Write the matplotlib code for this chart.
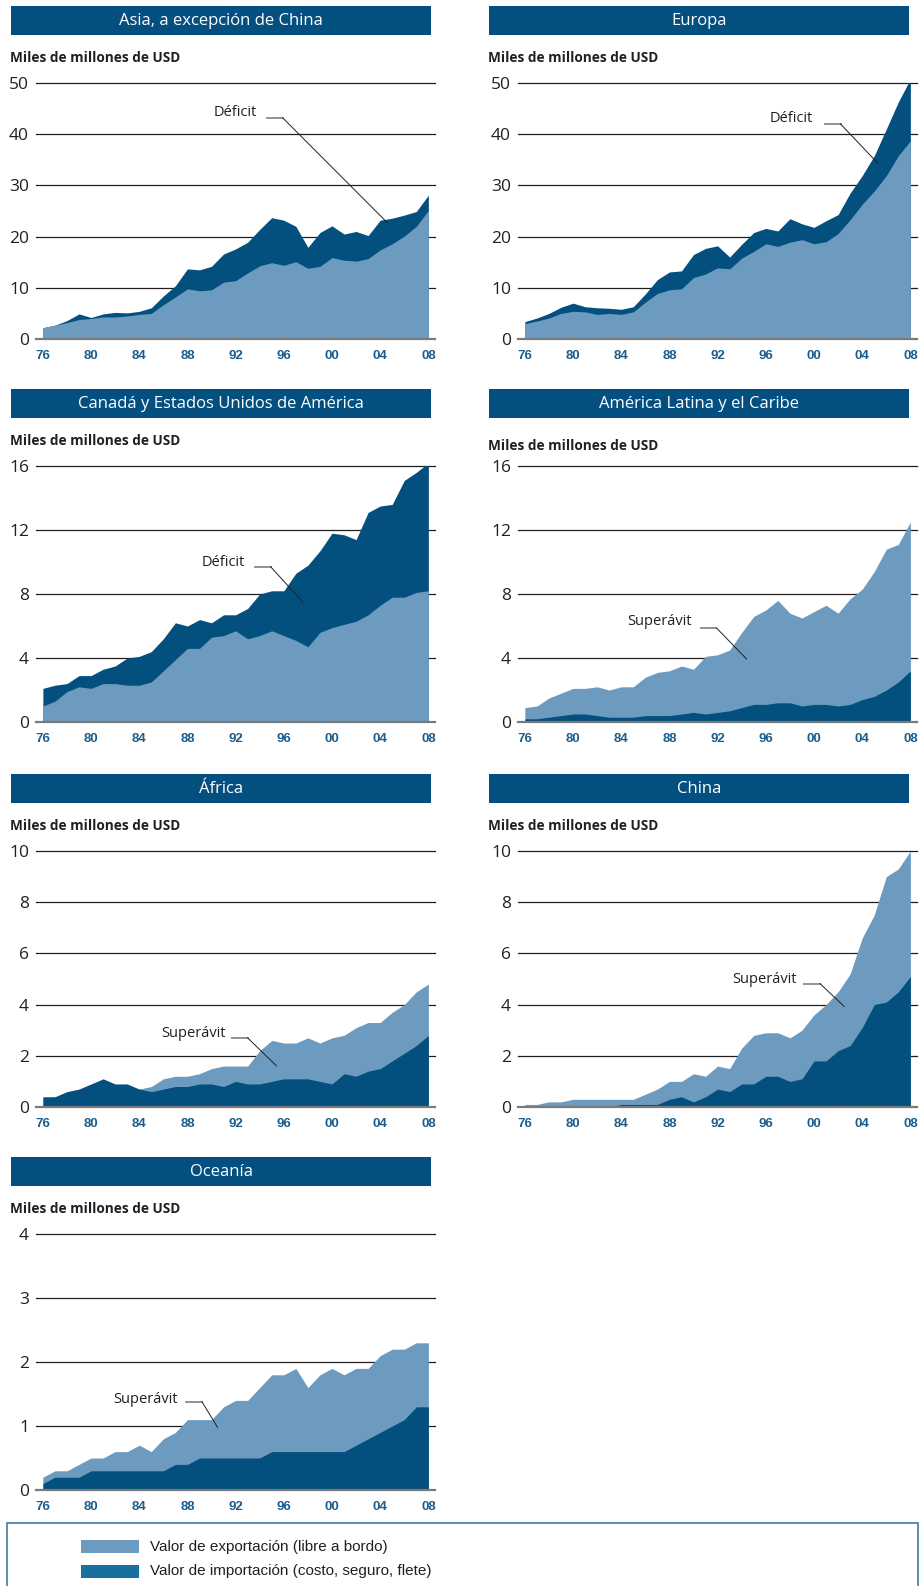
import numpy as np
import matplotlib
matplotlib.use("Agg")
import matplotlib.pyplot as plt
from matplotlib.patches import Rectangle

# Exportaciones e importaciones por región, 1976-2008 (miles de millones de USD)

years = np.arange(1976, 2009)
tick_years = [1976, 1980, 1984, 1988, 1992, 1996, 2000, 2004, 2008]
tick_labels = ["76", "80", "84", "88", "92", "96", "00", "04", "08"]

regions = ["Asia, a excepción de China", "Europa",
           "Canadá y Estados Unidos de América", "América Latina y el Caribe",
           "África", "China", "Oceanía"]

asia_exp = [2.2, 2.7, 3.2, 3.8, 4.0, 4.3, 4.3, 4.5, 4.8, 5.0, 6.7, 8.2, 9.8, 9.4, 9.6,
            11.1, 11.4, 12.9, 14.3, 14.9, 14.4, 15.1, 13.8, 14.2, 15.9, 15.4, 15.2,
            15.7, 17.4, 18.6, 20.1, 22.0, 25.1]
asia_imp = [2.2, 2.7, 3.6, 4.9, 4.2, 4.9, 5.2, 5.1, 5.4, 6.1, 8.4, 10.4, 13.7, 13.5, 14.2,
            16.6, 17.6, 18.9, 21.4, 23.7, 23.2, 22.0, 17.9, 20.8, 22.1, 20.5, 21.0,
            20.2, 23.2, 23.6, 24.2, 24.9, 28.1]

europa_exp = [3.0, 3.5, 4.1, 5.0, 5.4, 5.3, 4.8, 5.0, 4.8, 5.3, 7.2, 8.9, 9.6, 9.8, 12.0,
              12.7, 13.9, 13.7, 15.8, 17.1, 18.6, 18.1, 18.9, 19.4, 18.6, 19.0, 20.6,
              23.3, 26.3, 28.9, 31.9, 35.8, 38.7]
europa_imp = [3.4, 4.1, 5.0, 6.2, 7.0, 6.3, 6.1, 6.0, 5.8, 6.3, 8.8, 11.6, 13.1, 13.3, 16.5,
              17.7, 18.2, 16.0, 18.5, 20.8, 21.6, 21.1, 23.5, 22.5, 21.8, 23.1, 24.3,
              28.5, 31.9, 35.8, 41.0, 46.3, 50.8]

canada_exp = [1.0, 1.3, 1.9, 2.2, 2.1, 2.4, 2.4, 2.3, 2.3, 2.5, 3.2, 3.9, 4.6, 4.6, 5.3,
              5.4, 5.7, 5.2, 5.4, 5.7, 5.4, 5.1, 4.7, 5.6, 5.9, 6.1, 6.3, 6.7, 7.3,
              7.8, 7.8, 8.1, 8.2]
canada_imp = [2.1, 2.3, 2.4, 2.9, 2.9, 3.3, 3.5, 4.0, 4.1, 4.4, 5.2, 6.2, 6.0, 6.4, 6.2,
              6.7, 6.7, 7.1, 8.0, 8.2, 8.2, 9.3, 9.8, 10.7, 11.8, 11.7, 11.4, 13.1,
              13.5, 13.6, 15.1, 15.6, 16.2]

latam_exp = [0.9, 1.0, 1.5, 1.8, 2.1, 2.1, 2.2, 2.0, 2.2, 2.2, 2.8, 3.1, 3.2, 3.5, 3.3,
             4.1, 4.2, 4.5, 5.6, 6.6, 7.0, 7.6, 6.8, 6.5, 6.9, 7.3, 6.8, 7.7, 8.3,
             9.4, 10.8, 11.1, 12.5]
latam_imp = [0.2, 0.2, 0.3, 0.4, 0.5, 0.5, 0.4, 0.3, 0.3, 0.3, 0.4, 0.4, 0.4, 0.5, 0.6,
             0.5, 0.6, 0.7, 0.9, 1.1, 1.1, 1.2, 1.2, 1.0, 1.1, 1.1, 1.0, 1.1, 1.4,
             1.6, 2.0, 2.5, 3.2]

africa_exp = [0.3, 0.4, 0.5, 0.6, 0.8, 0.9, 0.8, 0.8, 0.7, 0.8, 1.1, 1.2, 1.2, 1.3, 1.5,
              1.6, 1.6, 1.6, 2.2, 2.6, 2.5, 2.5, 2.7, 2.5, 2.7, 2.8, 3.1, 3.3, 3.3,
              3.7, 4.0, 4.5, 4.8]
africa_imp = [0.4, 0.4, 0.6, 0.7, 0.9, 1.1, 0.9, 0.9, 0.7, 0.6, 0.7, 0.8, 0.8, 0.9, 0.9,
              0.8, 1.0, 0.9, 0.9, 1.0, 1.1, 1.1, 1.1, 1.0, 0.9, 1.3, 1.2, 1.4, 1.5,
              1.8, 2.1, 2.4, 2.8]

china_exp = [0.1, 0.1, 0.2, 0.2, 0.3, 0.3, 0.3, 0.3, 0.3, 0.3, 0.5, 0.7, 1.0, 1.0, 1.3,
             1.2, 1.6, 1.5, 2.3, 2.8, 2.9, 2.9, 2.7, 3.0, 3.6, 4.0, 4.5, 5.2, 6.6,
             7.5, 9.0, 9.3, 10.0]
china_imp = [0.0, 0.0, 0.0, 0.0, 0.0, 0.0, 0.0, 0.0, 0.1, 0.1, 0.1, 0.1, 0.3, 0.4, 0.2,
             0.4, 0.7, 0.6, 0.9, 0.9, 1.2, 1.2, 1.0, 1.1, 1.8, 1.8, 2.2, 2.4, 3.1,
             4.0, 4.1, 4.5, 5.1]

oceania_exp = [0.2, 0.3, 0.3, 0.4, 0.5, 0.5, 0.6, 0.6, 0.7, 0.6, 0.8, 0.9, 1.1, 1.1, 1.1,
               1.3, 1.4, 1.4, 1.6, 1.8, 1.8, 1.9, 1.6, 1.8, 1.9, 1.8, 1.9, 1.9, 2.1,
               2.2, 2.2, 2.3, 2.3]
oceania_imp = [0.1, 0.2, 0.2, 0.2, 0.3, 0.3, 0.3, 0.3, 0.3, 0.3, 0.3, 0.4, 0.4, 0.5, 0.5,
               0.5, 0.5, 0.5, 0.5, 0.6, 0.6, 0.6, 0.6, 0.6, 0.6, 0.6, 0.7, 0.8, 0.9,
               1.0, 1.1, 1.3, 1.3]

exports = [asia_exp, europa_exp, canada_exp, latam_exp, africa_exp, china_exp, oceania_exp]
imports = [asia_imp, europa_imp, canada_imp, latam_imp, africa_imp, china_imp, oceania_imp]
y_max = [50, 50, 16, 16, 10, 10, 4]
y_step = [10, 10, 4, 4, 2, 2, 1]
notes = ["Déficit", "Déficit", "Déficit", "Superávit", "Superávit", "Superávit", "Superávit"]

# posición de la etiqueta y de la línea guía: (x texto, y texto, x1, x2, y línea, x fin, y fin)
note_pos = [
    (1993.8, 44.3, 1994.6, 1995.9, 43.2, 2004.6, 22.7),
    (1999.9, 43.1, 2000.9, 2002.2, 42.0, 2005.35, 34.2),
    (1992.8, 9.96, 1993.6, 1994.9, 9.71, 1997.6, 7.47),
    (1989.85, 6.25, 1990.6, 1991.9, 5.88, 1994.4, 3.94),
    (1991.2, 2.89, 1991.7, 1993.0, 2.70, 1995.4, 1.60),
    (1998.6, 4.98, 1999.2, 2000.5, 4.82, 2002.5, 3.93),
    (1987.2, 1.41, 1987.9, 1989.2, 1.38, 1990.5, 0.98),
]

LIGHT = "#6d9bc0"
DARK = "#03507f"
BAR = "#034f80"
TICKBLUE = "#1b5e8e"
W, H = 921, 1586

plt.rcParams['font.family'] = ['Open Sans', 'DejaVu Sans']
NARROW = ['Liberation Sans Narrow', 'Liberation Sans']

fig = plt.figure(figsize=(W / 100, H / 100), dpi=100)


def fx(px):
    return px / W


def fy(py):
    return 1 - py / H


col_left = [36, 518]
bar_left = [11, 489]
row_top = [83, 466, 851, 1234]
plot_w, plot_h = 399, 256

for i, name in enumerate(regions):
    row, col = divmod(i, 2)
    left = col_left[col]
    top = row_top[row]

    # barra de título
    bar_top = top - 77
    fig.add_artist(Rectangle((fx(bar_left[col]), fy(bar_top + 29)), fx(420), 29 / H,
                             transform=fig.transFigure, facecolor=BAR, edgecolor="none"))
    fig.text(fx(bar_left[col] + 210), fy(bar_top + 15), name, color="white",
             ha="center", va="center", fontsize=12)
    lab_off = 20 if i == 3 else 25
    fig.text(fx(bar_left[col] - 1), fy(top - lab_off), "Miles de millones de USD",
             fontsize=9.8, fontweight="bold", color="#231f20", ha="left", va="center")

    ax = fig.add_axes([fx(left), fy(top + plot_h), fx(plot_w), plot_h / H])
    exp = np.array(exports[i])
    imp = np.array(imports[i])
    deficit = imp.sum() > exp.sum()
    if deficit:
        ax.fill_between(years, 0, imp, color=DARK, lw=0, zorder=2)
        ax.fill_between(years, 0, exp, color=LIGHT, lw=0, zorder=3)
    else:
        ax.fill_between(years, 0, exp, color=LIGHT, lw=0, zorder=2)
        ax.fill_between(years, 0, imp, color=DARK, lw=0, zorder=3)

    yt = np.arange(0, y_max[i] + y_step[i] / 2, y_step[i])
    for v in yt[1:]:
        ax.axhline(v, color="#231f20", lw=0.9, zorder=1, clip_on=False)
    ax.axhline(0, color="#7a7a7a", lw=1.6, zorder=4, clip_on=False)

    ax.set_xlim(1975.43, 2008.55)
    ax.set_ylim(0, y_max[i])
    ax.set_yticks(yt)
    ax.set_yticklabels([str(int(v)) for v in yt], fontsize=12.5, color="#231f20")
    ax.set_xticks(tick_years)
    ax.set_xticklabels(tick_labels, fontsize=9.5, fontweight="bold", color=TICKBLUE,
                       family=NARROW)
    ax.tick_params(axis="y", length=0, pad=5)
    ax.tick_params(axis="x", length=0, pad=8)
    for s in ax.spines.values():
        s.set_visible(False)
    ax.patch.set_alpha(0)

    tx, ty, x1, x2, yl, xe, ye = note_pos[i]
    ax.text(tx, ty, notes[i], ha="right", va="center", fontsize=10.5, color="#231f20", zorder=6)
    ax.plot([x1, x2], [yl, yl], color="#8a8a8a", lw=1.3, zorder=6, clip_on=False)
    ax.plot([x2, xe], [yl, ye], color="#231f20", lw=0.7, zorder=6, clip_on=False)

# leyenda
fig.add_artist(Rectangle((fx(7), fy(1600)), fx(911), 77 / H, transform=fig.transFigure,
                         facecolor="none", edgecolor="#3f7aa8", lw=1.2))
legend_items = [("Valor de exportación (libre a bordo)", LIGHT),
                ("Valor de importación (costo, seguro, flete)", "#17709f")]
for k, (txt, colr) in enumerate(legend_items):
    ytop = 1540 + 25 * k
    fig.add_artist(Rectangle((fx(81), fy(ytop + 13)), fx(58), 13 / H,
                             transform=fig.transFigure, facecolor=colr, edgecolor="none"))
    fig.text(fx(150), fy(ytop + 6.5), txt, fontsize=11, color="#231f20", va="center",
             family=NARROW)

fig.savefig("out.png", dpi=100)
